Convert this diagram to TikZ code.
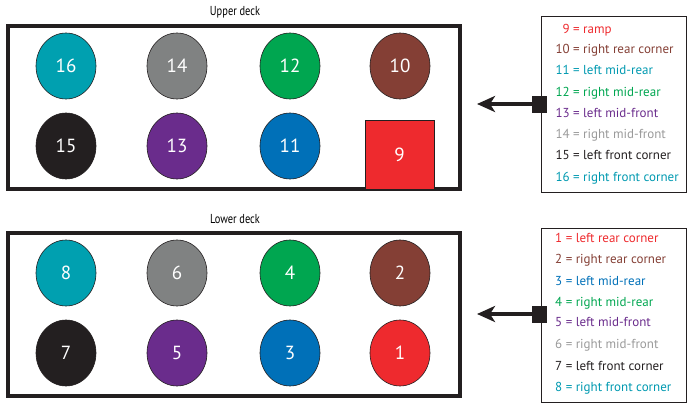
\documentclass[tikz,border=0pt]{standalone}
\usepackage{fontspec}
\setmainfont{PT Sans}
\usetikzlibrary{arrows.meta,shapes.geometric}
\definecolor{cteal}{HTML}{00A0B0}
\definecolor{cgrey}{HTML}{808282}
\definecolor{cgreen}{HTML}{00A650}
\definecolor{cbrown}{HTML}{843F35}
\definecolor{cblack}{HTML}{231F20}
\definecolor{cpurple}{HTML}{6A2C8C}
\definecolor{cblue}{HTML}{0070B8}
\definecolor{cred}{HTML}{EE2A2E}
\definecolor{lgrey}{HTML}{9A9A9A}
\definecolor{lteal}{HTML}{0099B0}
\tikzset{
  x=1pt,y=-1pt,
  car/.style={ellipse,draw=cblack,line width=0.6pt,minimum width=60pt,minimum height=66pt,inner sep=0pt,text=white,font=\fontsize{19}{19}\selectfont},
  ramp/.style={rectangle,draw=cblack,line width=0.6pt,fill=cred,minimum width=69pt,minimum height=69pt,inner sep=0pt,text=white,font=\fontsize{19}{19}\selectfont},
  deck/.style={draw=cblack,line width=4pt},
  legbox/.style={draw=cblack,line width=0.8pt},
  legline/.style={anchor=west,inner sep=0pt,text height=9.5pt,text depth=3pt,font=\fontsize{13}{13}\selectfont},
  decklabel/.style={font=\fontsize{13}{13}\selectfont,xscale=0.8,inner sep=0pt},
  plug/.style={rectangle,fill=cblack,minimum width=15pt,minimum height=17pt,inner sep=0pt},
  pointer/.style={draw=cblack,line width=4.5pt,-{Stealth[length=18pt,width=16pt,inset=5pt]}}
}
\newcommand{\nn}[1]{\makebox[14.5pt][r]{#1}}
\begin{document}
\begin{tikzpicture}
\useasboundingbox (0,0) rectangle (694,407);
% Upper deck
\node[decklabel] (ulab) at (235,12) {Upper deck};
\draw[deck] (8,26) rectangle (460,189);
\node[car,fill=cteal]   (c16) at (66,66)  {16};
\node[car,fill=cgrey]   (c14) at (177,66) {14};
\node[car,fill=cgreen]  (c12) at (290,66) {12};
\node[car,fill=cbrown]  (c10) at (400,66) {10};
\node[car,fill=cblack]  (c15) at (66,146) {15};
\node[car,fill=cpurple] (c13) at (177,146) {13};
\node[car,fill=cblue]   (c11) at (290,146) {11};
\node[ramp] (c9) at (399.5,154.5) {9};
% Lower deck
\node[decklabel] (llab) at (235,219.5) {Lower deck};
\draw[deck] (8,232.5) rectangle (460,396);
\node[car,fill=cteal]   (c8) at (66,273)  {8};
\node[car,fill=cgrey]   (c6) at (177,273) {6};
\node[car,fill=cgreen]  (c4) at (290,273) {4};
\node[car,fill=cbrown]  (c2) at (400,273) {2};
\node[car,fill=cblack]  (c7) at (66,353) {7};
\node[car,fill=cpurple] (c5) at (177,353) {5};
\node[car,fill=cblue]   (c3) at (290,353) {3};
\node[car,fill=cred]    (c1) at (400,353) {1};
% Upper legend
\draw[legbox] (541.5,16.5) rectangle (686.5,192.5);
\node[legline,text=cred]    (u9)  at (555,30)    {\nn{9} = ramp};
\node[legline,text=cbrown]  (u10) at (555,50.7)  {\nn{10} = right rear corner};
\node[legline,text=lteal]   (u11) at (555,71.7)  {\nn{11} = left mid-rear};
\node[legline,text=cgreen]  (u12) at (555,93)    {\nn{12} = right mid-rear};
\node[legline,text=cpurple] (u13) at (555,114.3) {\nn{13} = left mid-front};
\node[legline,text=lgrey]   (u14) at (555,135.7) {\nn{14} = right mid-front};
\node[legline,text=cblack]  (u15) at (555,156.7) {\nn{15} = left front corner};
\node[legline,text=lteal]   (u16) at (555,178.3) {\nn{16} = right front corner};
% Lower legend
\draw[legbox] (541.5,228.5) rectangle (686.5,402);
\node[legline,text=cred]    (l1) at (555,239.3) {1 = left rear corner};
\node[legline,text=cbrown]  (l2) at (555,260.3) {2 = right rear corner};
\node[legline,text=cblue]   (l3) at (555,282)   {3 = left mid-rear};
\node[legline,text=cgreen]  (l4) at (555,303)   {4 = right mid-rear};
\node[legline,text=cpurple] (l5) at (555,323.7) {5 = left mid-front};
\node[legline,text=lgrey]   (l6) at (555,345.3) {6 = right mid-front};
\node[legline,text=cblack]  (l7) at (555,367)   {7 = left front corner};
\node[legline,text=lteal]   (l8) at (555,388)   {8 = right front corner};
% Pointers
\node[plug] (up) at (539.5,104) {};
\coordinate (uptip) at (477,104);
\draw[pointer] (up.west) -- (uptip);
\node[plug] (lp) at (539.5,314) {};
\coordinate (lptip) at (477,314);
\draw[pointer] (lp.west) -- (lptip);
\end{tikzpicture}
\end{document}
